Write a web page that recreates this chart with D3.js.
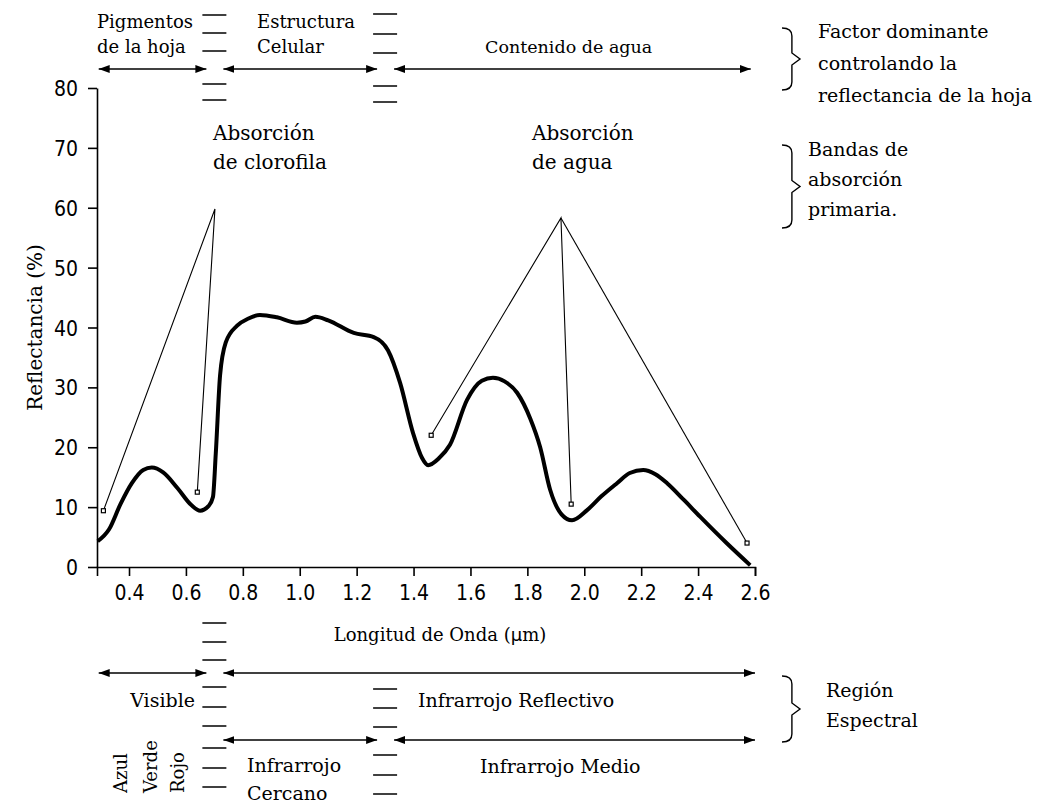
<!DOCTYPE html>
<html>
<head>
<meta charset="utf-8">
<script src="https://cdn.jsdelivr.net/npm/d3@7"></script>
<style>
  body { margin: 0; background: #fff; }
  svg text { fill: #000; }
</style>
</head>
<body>
<div id="chart"></div>
<script>
// reflectance curve of a green leaf (wavelength in µm, reflectance in %)
const wavelength = [0.29, 0.33, 0.37, 0.41, 0.45, 0.48, 0.52, 0.57, 0.62, 0.65, 0.68, 0.695, 0.705, 0.72, 0.74, 0.78, 0.82, 0.86, 0.92, 0.99, 1.02, 1.055, 1.10, 1.19, 1.26, 1.31, 1.353, 1.398, 1.43, 1.451, 1.49, 1.528, 1.588, 1.64, 1.679, 1.72, 1.764, 1.81, 1.845, 1.88, 1.92, 1.957, 2.01, 2.06, 2.115, 2.16, 2.207, 2.25, 2.291, 2.35, 2.407, 2.5, 2.583];
const reflectance = [4.3, 6.3, 10.5, 14, 16.2, 16.6, 15.8, 13.2, 10.3, 9.4, 10.2, 11.7, 19, 32, 37.5, 40.3, 41.5, 42.1, 41.7, 40.8, 41.0, 41.8, 41.2, 39.1, 38.4, 36.2, 30.7, 22.4, 18.2, 17.0, 18.2, 20.4, 27.9, 31.1, 31.6, 31.0, 29.1, 24.8, 20.0, 12.9, 8.8, 7.8, 9.5, 11.8, 14.0, 15.7, 16.2, 15.5, 14.0, 11.2, 8.4, 4.0, 0.3];

// pointer lines for the absorption bands: [wavelength, reflectance]
const chlorophyllPointer = [[0.31, 9.4], [0.702, 59.8], [0.64, 12.5]];
const waterPointerA = [[1.462, 22.0], [1.918, 58.3], [1.954, 10.5]];
const waterPointerB = [[1.918, 58.3], [2.572, 4.0]];
const pointerEnds = [[0.31, 9.4], [0.64, 12.5], [1.462, 22.0], [1.954, 10.5], [2.572, 4.0]];

const xTicks = [0.4, 0.6, 0.8, 1.0, 1.2, 1.4, 1.6, 1.8, 2.0, 2.2, 2.4, 2.6];
const yTicks = [0, 10, 20, 30, 40, 50, 60, 70, 80];

// spectral boundaries (µm) and range arrows
const boundaries = [0.7, 1.3];
const topRanges = [[0.29, 0.7], [0.7, 1.3], [1.3, 2.585]];
const regionRanges = [[0.29, 0.7], [0.7, 2.6]];
const irRanges = [[0.7, 1.3], [1.3, 2.6]];

const W = 1057, H = 804;
const serif = "'DejaVu Serif', serif";

const svg = d3.select("#chart").append("svg")
    .attr("width", W)
    .attr("height", H);

const x = d3.scaleLinear().domain([0.2875, 2.6]).range([97, 755]);
const y = d3.scaleLinear().domain([0, 80]).range([567, 88]);

// arrow heads
const defs = svg.append("defs");
defs.append("marker")
    .attr("id", "head")
    .attr("viewBox", "0 -5 12 10")
    .attr("refX", 11).attr("refY", 0)
    .attr("markerWidth", 12).attr("markerHeight", 10)
    .attr("markerUnits", "userSpaceOnUse")
    .attr("orient", "auto-start-reverse")
    .append("path")
    .attr("d", "M0,-4L11,0L0,4Z")
    .attr("fill", "#000");

// axes
const yAxis = svg.append("g")
    .attr("transform", `translate(${x.range()[0]},0)`)
    .call(d3.axisLeft(y).tickValues(yTicks).tickSize(9).tickSizeOuter(0).tickPadding(10));
const xAxis = svg.append("g")
    .attr("transform", `translate(0,${y(0)})`)
    .call(d3.axisBottom(x).tickValues(xTicks).tickFormat(d3.format(".1f")).tickSize(9).tickSizeOuter(9).tickPadding(9));

[yAxis, xAxis].forEach(a => {
    a.selectAll("path, line").attr("stroke", "#000").attr("stroke-width", 1.6);
    a.selectAll("text")
        .attr("font-family", "'Liberation Sans Narrow', 'DejaVu Sans Condensed', 'Liberation Sans', sans-serif")
        .attr("font-size", 21)
        .attr("fill", "#000");
});
yAxis.selectAll("text").attr("dy", "0.36em");

svg.append("text")
    .attr("transform", `translate(42,${y(40)}) rotate(-90)`)
    .attr("text-anchor", "middle")
    .attr("font-family", serif)
    .attr("font-size", 20)
    .text("Reflectancia (%)");

svg.append("text")
    .attr("x", 440).attr("y", 641)
    .attr("text-anchor", "middle")
    .attr("font-family", serif)
    .attr("font-size", 18)
    .text("Longitud de Onda (")
    .append("tspan").attr("font-family", "'DejaVu Sans', sans-serif").text("µ")
    .append("tspan").attr("font-family", serif).text("m)");

// pointer lines
const pline = d3.line().x(d => x(d[0])).y(d => y(d[1]));
[chlorophyllPointer, waterPointerA, waterPointerB].forEach(p => {
    svg.append("path")
        .attr("d", pline(p))
        .attr("fill", "none")
        .attr("stroke", "#000")
        .attr("stroke-width", 1.1);
});
svg.selectAll("rect.end")
    .data(pointerEnds)
    .join("rect")
    .attr("class", "end")
    .attr("x", d => x(d[0]) - 2).attr("y", d => y(d[1]) - 2)
    .attr("width", 4).attr("height", 4)
    .attr("fill", "#fff").attr("stroke", "#000").attr("stroke-width", 1.2);

// reflectance curve
const curve = d3.line()
    .x((d, i) => x(wavelength[i]))
    .y(d => y(d))
    .curve(d3.curveMonotoneX);
svg.append("path")
    .attr("d", curve(reflectance))
    .attr("fill", "none")
    .attr("stroke", "#000")
    .attr("stroke-width", 4)
    .attr("stroke-linejoin", "round");

// labels for absorption bands
function lines(tx, ty, rows, size, dy) {
    const t = svg.append("text")
        .attr("font-family", serif)
        .attr("font-size", size);
    rows.forEach((r, i) => t.append("tspan").attr("x", tx).attr("y", ty + i * dy).text(r));
    return t;
}
lines(213, 140, ["Absorción", "de clorofila"], 20, 29);
lines(532, 140, ["Absorción", "de agua"], 20, 29);

// range arrows
function arrowRow(ranges, yy) {
    ranges.forEach(r => {
        const a = boundaries.includes(r[0]) ? x(r[0]) + 9 : x(r[0]) + 1;
        const b = boundaries.includes(r[1]) ? x(r[1]) - 8 : x(r[1]);
        svg.append("line")
            .attr("x1", a).attr("x2", b)
            .attr("y1", yy).attr("y2", yy)
            .attr("stroke", "#000").attr("stroke-width", 1.5)
            .attr("marker-start", "url(#head)")
            .attr("marker-end", "url(#head)");
    });
}
arrowRow(topRanges, 69);
arrowRow(regionRanges, 673);
arrowRow(irRanges, 740);

// boundary dash columns
function dashes(bx, ys) {
    svg.append("g").selectAll("line")
        .data(ys)
        .join("line")
        .attr("x1", x(bx) - 12).attr("x2", x(bx) + 12)
        .attr("y1", d => d).attr("y2", d => d)
        .attr("stroke", "#000").attr("stroke-width", 1.5);
}
dashes(boundaries[0], [15, 33, 51, 84, 100]);
dashes(boundaries[1], [14, 34, 53, 86, 102]);
dashes(boundaries[0], [623, 642, 660, 687, 707, 726, 748, 768, 787]);
dashes(boundaries[1], [689, 708, 727, 755, 775, 794]);

// top labels
lines(97, 28, ["Pigmentos", "de la hoja"], 18, 25);
lines(257, 28, ["Estructura", "Celular"], 18, 25);
lines(485, 53, ["Contenido de agua"], 17.5, 0);

// bottom labels
lines(195, 707, ["Visible"], 19, 0).attr("text-anchor", "end");
lines(418, 707, ["Infrarrojo Reflectivo"], 19, 0);
lines(247, 772, ["Infrarrojo", "Cercano"], 19, 28);
lines(480, 773, ["Infrarrojo Medio"], 19, 0);
[["Azul", 127], ["Verde", 157], ["Rojo", 184]].forEach(([t, bx]) => {
    svg.append("text")
        .attr("transform", `translate(${bx},793) rotate(-90)`)
        .attr("font-family", serif)
        .attr("font-size", 18)
        .text(t);
});

// braces on the right
function brace(bx, y0, y1) {
    const m = (y0 + y1) / 2, w = 18;
    svg.append("path")
        .attr("d", `M${bx},${y0} Q${bx + w * 0.55},${y0} ${bx + w * 0.55},${y0 + 8} L${bx + w * 0.55},${m - 6} L${bx + w},${m} L${bx + w * 0.55},${m + 6} L${bx + w * 0.55},${y1 - 8} Q${bx + w * 0.55},${y1} ${bx},${y1}`)
        .attr("fill", "none")
        .attr("stroke", "#000")
        .attr("stroke-width", 1.4);
}
brace(782, 28, 90);
lines(818, 38, ["Factor dominante", "controlando la", "reflectancia de la hoja"], 19, 32);
brace(782, 145, 228);
lines(808, 156, ["Bandas de", "absorción", "primaria."], 19, 30);
brace(782, 676, 742);
lines(826, 697, ["Región", "Espectral"], 19, 30);
</script>
</body>
</html>
